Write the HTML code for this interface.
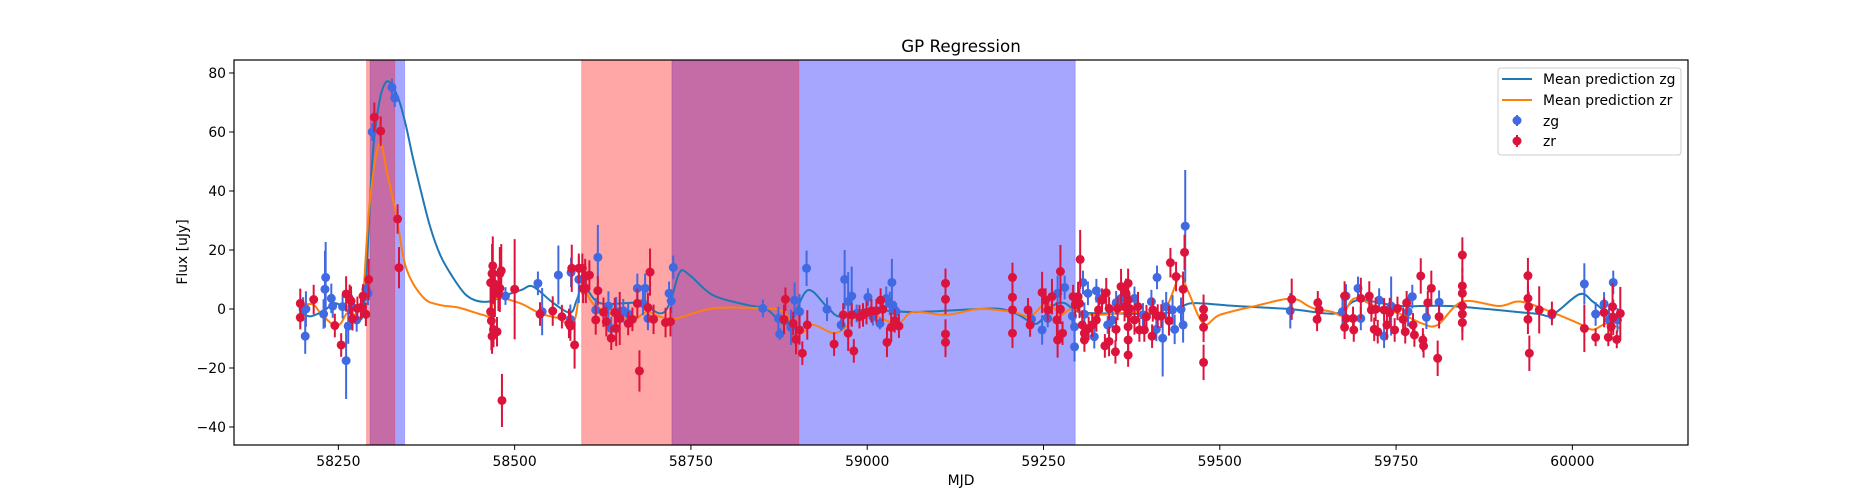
<!DOCTYPE html>
<html><head><meta charset="utf-8"><title>GP Regression</title>
<style>
html,body{margin:0;padding:0;background:#fff;}
svg{display:block;font-family:"DejaVu Sans","Liberation Sans",sans-serif;}
</style></head>
<body>
<svg id="chart" width="1875" height="500" viewBox="0 0 1875 500" xmlns="http://www.w3.org/2000/svg">
<rect width="1875" height="500" fill="#fff"/>
<g id="spans"></g>
<g id="lines"></g>
<g id="points"></g>
<rect x="234" y="60" width="1454" height="385" fill="none" stroke="#000" stroke-width="1.2"/>
<g id="axes"></g>
<text x="961" y="52" text-anchor="middle" font-size="16.7">GP Regression</text>
<text x="961" y="485" text-anchor="middle" font-size="13.9">MJD</text>
<text transform="translate(187,252) rotate(-90)" text-anchor="middle" font-size="13.9">Flux [uJy]</text>
<g>
<rect x="1498" y="68" width="183" height="87" rx="3" fill="#fff" fill-opacity="0.8" stroke="#ccc"/>
<line x1="1502" y1="79" x2="1532" y2="79" stroke="#1f77b4" stroke-width="2"/>
<text x="1543" y="84" font-size="13.9">Mean prediction zg</text>
<line x1="1502" y1="100" x2="1532" y2="100" stroke="#ff7f0e" stroke-width="2"/>
<text x="1543" y="105" font-size="13.9">Mean prediction zr</text>
<line x1="1517" y1="115" x2="1517" y2="126" stroke="#4169e1" stroke-width="2"/>
<circle cx="1517" cy="120.5" r="4.5" fill="#4169e1"/>
<text x="1543" y="126" font-size="13.9">zg</text>
<line x1="1517" y1="135" x2="1517" y2="147" stroke="#dc143c" stroke-width="2"/>
<circle cx="1517" cy="141" r="4.5" fill="#dc143c"/>
<text x="1543" y="146" font-size="13.9">zr</text>
</g>
</svg>
<script>
const xTicks=[58250,58500,58750,59000,59250,59500,59750,60000];
const yTicks=[-40,-20,0,20,40,60,80];
const spanRed=[[58290,58330],[58595,58903]];
const spanBlue=[[58295,58344],[58723,59295]];
const zgMjd=[58200,58203,58204,58229,58231,58232,58240,58242,58256,58261,58264,58269,58276,58289,58292,58298,58326,58330,58487,58533,58539,58562,58579,58580,58591,58596,58618,58615,58633,58637,58644,58654,58661,58674,58685,58682,58689,58719,58722,58725,58852,58876,58874,58892,58897,58904,58914,58943,58963,58968,58973,58978,58985,59001,59008,59018,59027,59032,59035,59039,59041,59233,59248,59256,59270,59280,59291,59294,59294,59306,59313,59308,59322,59325,59329,59341,59348,59353,59360,59379,59391,59403,59411,59410,59419,59424,59433,59436,59445,59448,59451,59600,59674,59679,59696,59700,59726,59733,59743,59767,59773,59793,59811,59971,60017,60033,60045,60058,60064,60052];
const zgFlux=[0,-9.2,0,-1.7,6.7,10.7,3.6,1,0.8,-17.5,-5.8,0.8,-3.7,6.7,5.3,60,75.1,71.5,4.4,8.7,-0.9,11.5,-3.5,12.4,10,10,17.5,-0.3,1,-6.6,-0.9,-0.6,-1.7,7,7,1.9,-3.2,5.3,2.7,14.1,0.2,-8.5,-3.2,-6.2,3,-0.9,13.8,-0.1,-5.4,10,2.5,4.4,-1.5,4,-2.6,-4.9,3.6,1.9,9,-0.3,-0.9,-3.5,-7.1,-3.2,5.3,7.3,-2.4,-12.8,-6,9,5.3,-1.8,-9.4,6.2,3.6,-5.4,-3.7,2.1,3.6,3.6,-2,2.5,10.7,-6.9,-9.9,0.8,-0.3,-6.9,-0.1,-5.4,28.1,-0.6,-0.9,4.4,7,-3.2,3,-9.2,1,-0.9,4.2,-2.8,2.3,-2,8.5,-1.7,1.7,9,-3.7,-3.7];
const zgErr=[4,6,6,5,13,12,5,4,4,13,6,4,4,4,4,3,3,3,3,4,8,10,5,5,8,5,11,4,5,4,5,4,4,5,5,4,4,4,4,4,3,2,4,6,6,6,6,4,2,10,10,10,3,3,3,2,4,4,8,3,3,3,5,3,6,4,5,5,4,4,4,4,4,4,3,3,4,4,4,4,4,4,4,4,13,5,5,5,4,6,19,6,6,4,4,4,4,4,10,5,4,4,4,2,7,4,4,4,4,4];
const zrMjd=[58196,58196,58215,58245,58254,58261,58266,58268,58270,58277,58282,58285,58289,58293,58301,58310,58334,58336,58466,58468,58469,58470,58472,58466,58467,58468,58470,58475,58477,58479,58479,58481,58482,58500,58536,58554,58567,58577,58579,58581,58585,58591,58597,58600,58596,58606,58601,58618,58615,58626,58630,58637,58642,58644,58649,58661,58667,58674,58677,58689,58692,58697,58714,58721,58884,58882,58895,58899,58904,58908,58915,58953,58966,58973,58978,58981,58989,58994,58999,59006,59013,59019,59022,59028,59034,59039,59045,59111,59111,59111,59111,59206,59206,59206,59206,59228,59231,59248,59253,59256,59262,59269,59270,59274,59274,59277,59292,59295,59299,59302,59301,59305,59308,59308,59314,59319,59325,59328,59333,59337,59339,59343,59343,59352,59353,59355,59360,59365,59367,59370,59370,59370,59370,59370,59370,59372,59379,59384,59386,59393,59396,59404,59405,59412,59417,59428,59430,59438,59448,59450,59477,59477,59477,59477,59602,59639,59641,59638,59677,59677,59679,59689,59690,59700,59712,59715,59719,59721,59724,59733,59737,59741,59748,59752,59760,59763,59765,59774,59776,59785,59788,59789,59795,59800,59811,59809,59844,59844,59844,59844,59844,59844,59937,59937,59938,59937,59939,59953,59971,60017,60033,60045,60051,60055,60057,60058,60063,60068];
const zrFlux=[1.9,-2.9,3.2,-5.6,-12.2,5.1,3.3,2.7,-3.3,0.2,0.5,4.4,-1.8,10,65,60.3,30.5,14,8.9,12,14.6,8.7,5.3,-0.9,-4,-9.2,-7,-7.7,5.3,7,12,13,-31,6.7,-1.7,-0.7,-2.6,-4.9,-5.8,13.8,-12.2,13.8,7,11,13.8,11.5,7,6.2,-3.7,-1.1,-4.3,-9.9,-1.2,-6.6,-3.2,-4.9,-3.5,1.9,-21,0.5,12.5,-3.5,-4.6,-4.3,3.3,-3.5,-4.9,-10.3,-7.1,-15,-5.4,-11.9,-2,-8.2,-2,-14.2,-2.6,-2,-1.2,-0.6,-0.6,3,-0.1,-11.3,-6.2,-4,-5.8,8.7,3.3,-8.5,-11.3,10.7,4,-0.3,-8.2,-0.3,-5.4,5.6,3,-0.3,4.2,-3.7,-10.5,12.7,-0.1,-8.2,4.2,1.4,4.2,16.8,1.9,-5.4,-8.2,-10.5,-6.6,-5.4,-3.7,-0.3,3,-12.5,5.5,0.2,-11,-14.5,-6.9,0.2,7.6,0.8,5.3,8.7,3,-1.5,-6,-10.5,-15.6,0.2,-3.7,0.8,-7.1,-7.1,-2.6,-9.2,-0.3,-2.4,-2.4,-4,15.7,11,6.7,19.2,-0.1,-2.8,-6.2,-18.1,3.3,2.1,-0.3,-3.5,4.4,-6.2,-3.2,-3.2,-7.1,3.6,4.4,-0.3,-6.9,-0.1,-7.7,-0.3,-5.4,-1.2,-7.1,0.2,-3.5,-7.7,2.1,-5.4,-8.8,11.2,-10.5,-12.5,2.1,7,-2.6,-16.7,18.3,7.8,5.3,1,-1.7,-4.6,11.3,3.6,0.8,-3.5,-15,-0.3,-1.5,-6.6,-9.6,-1.2,-9.6,-6,0.8,-2.8,-10.3,-1.5];
const zrErr=[5,4,5,4,4,6,5,5,4,4,4,4,4,7,5,5,5,7,7,10,10,7,8,8,10,6,6,5,6,8,9,9,9,17,4,5,4,5,5,8,8,5,5,6,5,5,5,5,5,5,5,4,5,6,9,4,4,5,7,5,8,5,5,5,4,5,4,5,5,4,5,4,4,6,4,4,4,4,4,4,4,4,4,5,5,4,4,5,5,5,5,5,5,5,5,4,4,7,4,4,6,6,6,9,5,4,4,4,5,10,5,5,4,4,4,4,4,4,4,4,5,4,5,4,4,4,6,5,5,5,5,5,5,5,4,5,5,5,4,4,4,4,4,4,4,5,5,5,6,6,5,5,5,6,7,4,4,4,5,4,4,4,4,7,5,4,4,4,4,4,5,5,4,4,4,4,4,4,4,6,4,4,4,6,4,6,6,6,6,6,6,6,6,5,5,5,6,8,4,8,3,5,3,4,8,6,3,9];
const zgLineMjd=[58196,58210,58230,58245,58260,58275,58287,58298,58308,58318,58328,58337,58346,58355,58365,58380,58395,58413,58430,58446,58465,58488,58510,58526,58555,58579,58588,58598,58621,58677,58706,58720,58734,58748,58781,58829,58857,58881,58895,58916,58942,58961,58994,59065,59159,59190,59215,59240,59263,59280,59300,59350,59420,59447,59466,59523,59599,59665,59696,59755,59826,59944,59971,60010,60029,60048,60068];
const zgLineVal=[-1,-2.5,-0.5,2,0,-3,2,50,70,77,75,70,62,52,42,28,18,10.5,5,2.8,2.6,4.7,6.5,7.6,2,-1.2,3,8,2,2,-1.5,2,12.4,11.5,4.7,1.4,0,-5,-2.5,6.4,1,-2.6,-0.3,-1,0,0,-2,-5,1,2,-1,-1.5,-1.5,1,2,1,0,-1.5,3,1,1,-1.5,-2,5,2.5,-1,-3];
const zrLineMjd=[58196,58201,58215,58225,58243,58253,58262,58272,58279,58285,58294,58308,58320,58332,58346,58370,58393,58420,58455,58465,58474,58507,58536,58560,58583,58593,58600,58616,58663,58687,58706,58729,58781,58852,58881,58904,58923,58952,58970,58994,59041,59065,59112,59159,59206,59231,59250,59262,59275,59290,59320,59380,59420,59443,59455,59477,59500,59550,59602,59630,59660,59674,59691,59720,59760,59788,59809,59844,59896,59927,59972,60010,60029,60048,60068];
const zrLineVal=[0,1.4,1.4,-1.5,-5.4,-5,-1.5,-2,0,4,35,56,45,32,14,4,1.4,0.5,-2,-2,3.6,2,-1.5,-3,-5,7,6.4,0.8,-3.7,-1,-2.6,-3.2,0.2,0.2,-1,-8.2,-5.4,-8.2,-6,-1,-4.9,-1,-2,0,-1,-2.5,1.5,1,-2,0,-2,-1,-0.5,11,6,-5,-2,1,3.5,0.5,-1,-2,3.6,1,-2,-5,-5.4,2.5,1,2.5,-1.2,-5,-7,-5,-6.5];

const NS='http://www.w3.org/2000/svg';
const X0=234,X1=1688,Y0=60,Y1=445;
const mMin=58102,mMax=60164,fMin=-46.1,fMax=84.4;
function sx(m){return X0+(m-mMin)/(mMax-mMin)*(X1-X0);}
function sy(f){return Y1-(f-fMin)/(fMax-fMin)*(Y1-Y0);}
function mk(tag,attrs,parent){const e=document.createElementNS(NS,tag);for(const k in attrs)e.setAttribute(k,attrs[k]);parent.appendChild(e);return e;}

const spans=document.getElementById('spans');
spanBlue.forEach(function(s){
  const r=mk('rect',{x:sx(s[0]),y:Y0,width:sx(s[1])-sx(s[0]),height:Y1-Y0,fill:'#0000ff','fill-opacity':0.35,stroke:'#0000ff','stroke-opacity':0.2},spans);
  
  
});
spanRed.forEach(function(s){
  const r=mk('rect',{x:sx(s[0]),y:Y0,width:sx(s[1])-sx(s[0]),height:Y1-Y0,fill:'#ff0000','fill-opacity':0.35,stroke:'#ff0000','stroke-opacity':0.2},spans);
  
  
});

function smoothPath(ms,vs){
  const p=ms.map(function(m,i){return [sx(m),sy(vs[i])];});
  let d='M'+p[0][0].toFixed(2)+','+p[0][1].toFixed(2);
  for(let i=0;i<p.length-1;i++){
    const p0=p[Math.max(0,i-1)],p1=p[i],p2=p[i+1],p3=p[Math.min(p.length-1,i+2)];
    const c1=[p1[0]+(p2[0]-p0[0])/6,p1[1]+(p2[1]-p0[1])/6];
    const c2=[p2[0]-(p3[0]-p1[0])/6,p2[1]-(p3[1]-p1[1])/6];
    c1[0]=Math.min(Math.max(c1[0],p1[0]),p2[0]);c2[0]=Math.min(Math.max(c2[0],p1[0]),p2[0]);
    d+='C'+c1[0].toFixed(2)+','+c1[1].toFixed(2)+' '+c2[0].toFixed(2)+','+c2[1].toFixed(2)+' '+p2[0].toFixed(2)+','+p2[1].toFixed(2);
  }
  return d;
}
const lines=document.getElementById('lines');
const lg=mk('path',{d:smoothPath(zgLineMjd,zgLineVal),fill:'none',stroke:'#1f77b4','stroke-width':2},lines);


const lr=mk('path',{d:smoothPath(zrLineMjd,zrLineVal),fill:'none',stroke:'#ff7f0e','stroke-width':2},lines);



const pts=document.getElementById('points');
function drawSeries(ms,fs,es,color,name){
  const g=mk('g',{},pts);
  
  
  for(let i=0;i<ms.length;i++){
    const x=sx(ms[i]);
    const eb=mk('line',{x1:x,x2:x,y1:sy(fs[i]-es[i]),y2:sy(fs[i]+es[i]),stroke:color,'stroke-width':2},g);
    
    
    const c=mk('circle',{cx:x,cy:sy(fs[i]),r:4.5,fill:color},g);
    
    
  }
}
drawSeries(zgMjd,zgFlux,zgErr,'#4169e1','zg');
drawSeries(zrMjd,zrFlux,zrErr,'#dc143c','zr');

const axes=document.getElementById('axes');
xTicks.forEach(function(t){
  const x=sx(t);
  const l=mk('line',{x1:x,x2:x,y1:Y1,y2:Y1+4.9,stroke:'#000','stroke-width':1},axes);
  
  
  const tx=mk('text',{x:x,y:Y1+21,'text-anchor':'middle','font-size':13.9},axes);
  tx.textContent=t;
  
  
});
yTicks.forEach(function(t){
  const y=sy(t);
  const l=mk('line',{x1:X0-4.9,x2:X0,y1:y,y2:y,stroke:'#000','stroke-width':1},axes);
  
  
  const tx=mk('text',{x:X0-8,y:y+5,'text-anchor':'end','font-size':13.9},axes);
  tx.textContent=(t<0?'\u2212'+(-t):t);
  
  
});
</script>
</body></html>
